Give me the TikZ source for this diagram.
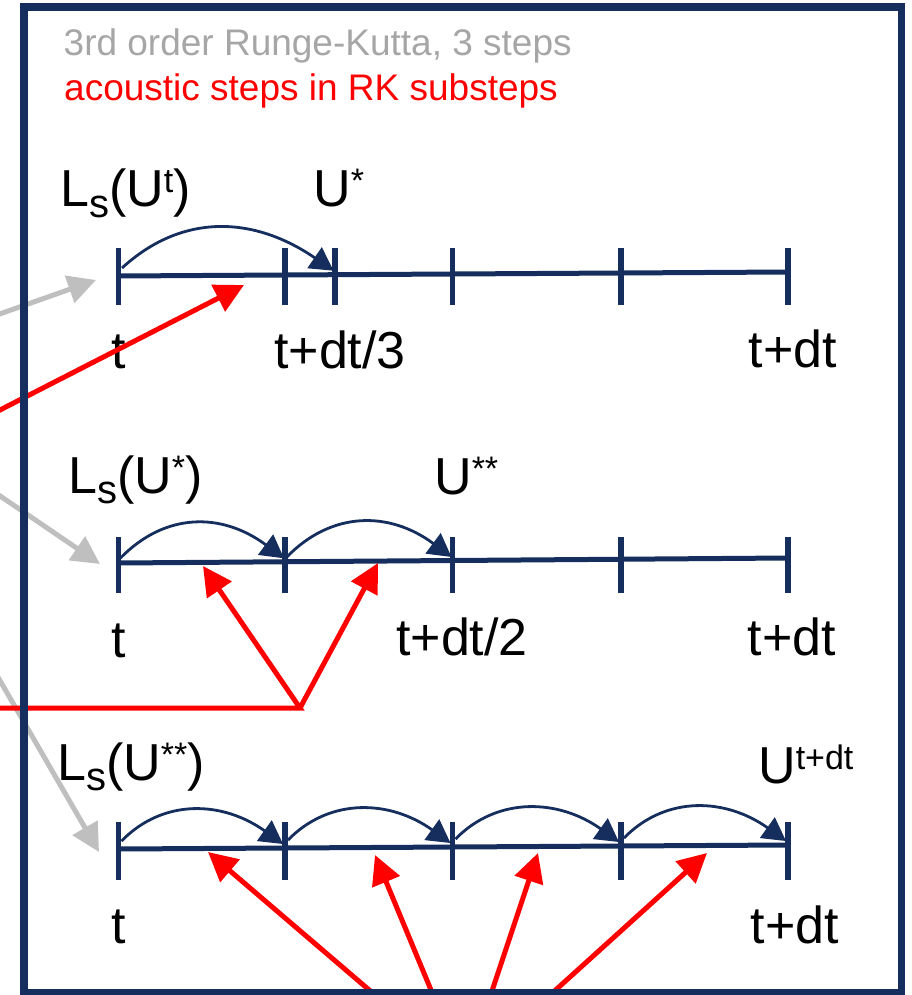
\documentclass[tikz,border=0pt]{standalone}
\usepackage{fontspec}
\setmainfont{Liberation Sans}
\usetikzlibrary{arrows.meta}
\definecolor{navy}{RGB}{21,46,94}
\definecolor{titlegray}{RGB}{166,166,166}
\definecolor{feedgray}{RGB}{191,191,191}
\definecolor{pptred}{RGB}{255,0,0}
% lowered / raised index text for the labels
\newcommand{\lsub}[1]{\raisebox{-10pt}{\fontsize{40}{40}\selectfont #1}}
\newcommand{\lsup}[1]{\raisebox{14pt}{\fontsize{34}{34}\selectfont #1}}

\begin{document}
\begin{tikzpicture}[x=1pt,y=-1pt,
  title/.style={anchor=base west, inner sep=0pt, font=\fontsize{37}{44}\selectfont},
  lbl/.style={anchor=base west, inner sep=0pt, font=\fontsize{52}{60}\selectfont},
  tlbl/.style={anchor=base, inner sep=0pt, font=\fontsize{52}{60}\selectfont},
  axisline/.style={navy, line width=5pt},
  tickmark/.style={navy, line width=5.5pt},
  hop/.style={navy, line width=2.8pt, -{Triangle[length=23pt,width=25pt]}},
  feed/.style={feedgray, line width=5pt, -{Triangle[length=28pt,width=28pt]}},
  redarrow/.style={pptred, line width=5pt, line join=miter, -{Triangle[length=29pt,width=29pt]}},
  frame/.style={navy, line width=7.5pt}
]
\useasboundingbox (0,0) rectangle (911,995);
\clip (0,0) rectangle (911,995);

% ---------- headings ----------
\node[title, text=titlegray] (head1) at (63.5,56) {3rd order Runge-Kutta, 3 steps};
\node[title, text=pptred] (head2) at (64,101) {acoustic steps in RK substeps};

% ---------- row 1: one step to t+dt/3 ----------
\coordinate (r1t0) at (118.5,276);
\coordinate (r1t1) at (285,275);
\coordinate (r1s)  at (335,274.7);
\coordinate (r1t2) at (452.5,274);
\coordinate (r1t3) at (621,273);
\coordinate (r1t4) at (788,272);
\draw[axisline] (r1t0) -- (r1t4);
\foreach \x in {118.5,285,335,452.5,621,788} \draw[tickmark] (\x,248) -- (\x,305);
\draw[hop] ([xshift=3.5pt,yshift=8pt]r1t0) .. controls +(60,-55) and +(-80,-55) .. ([xshift=-1.5pt,yshift=4pt]r1s);

\node[lbl] (ls1) at (60,207) {L\lsub{s}(U\lsup{t})};
\node[lbl] (u1) at (313,207) {U\lsup{*}};
\node[tlbl] (t1a) at (118.5,368) {t};
\node[tlbl] (t1b) at (340,368) {t+dt/3};
\node[tlbl] (t1c) at (793,367) {t+dt};

% ---------- row 2: two steps to t+dt/2 ----------
\coordinate (r2t0) at (118.5,563);
\coordinate (r2t1) at (285,561.8);
\coordinate (r2t2) at (452.5,560.5);
\coordinate (r2t3) at (621,559.2);
\coordinate (r2t4) at (788,558);
\draw[axisline] (r2t0) -- (r2t4);
\foreach \x in {118.5,285,452.5,621,788} \draw[tickmark] (\x,537) -- (\x,593);
\draw[hop] ([xshift=2pt,yshift=5pt]r2t0) .. controls +(45,-46) and +(-62,-46) .. ([xshift=-1pt,yshift=3.5pt]r2t1);
\draw[hop] ([xshift=2pt,yshift=5pt]r2t1) .. controls +(45,-46) and +(-62,-46) .. ([xshift=-1pt,yshift=3.5pt]r2t2);

\node[lbl] (ls2) at (68,493) {L\lsub{s}(U\lsup{*})};
\node[lbl] (u2) at (434,494) {U\lsup{**}};
\node[tlbl] (t2a) at (118.5,657) {t};
\node[tlbl] (t2b) at (462,655) {t+dt/2};
\node[tlbl] (t2c) at (792,655) {t+dt};

% ---------- row 3: four steps to t+dt ----------
\coordinate (r3t0) at (118.5,849);
\coordinate (r3t1) at (285,848);
\coordinate (r3t2) at (452.5,847);
\coordinate (r3t3) at (621,846);
\coordinate (r3t4) at (788,845);
\draw[axisline] (r3t0) -- (r3t4);
\foreach \x in {118.5,285,452.5,621,788} \draw[tickmark] (\x,822) -- (\x,880);
\draw[hop] ([xshift=3pt,yshift=8pt]r3t0) .. controls +(42,-43) and +(-60,-43) .. ([xshift=-2pt,yshift=4pt]r3t1);
\draw[hop] ([xshift=3pt,yshift=8pt]r3t1) .. controls +(42,-43) and +(-60,-43) .. ([xshift=-2pt,yshift=4pt]r3t2);
\draw[hop] ([xshift=3pt,yshift=8pt]r3t2) .. controls +(42,-43) and +(-60,-43) .. ([xshift=-2pt,yshift=4pt]r3t3);
\draw[hop] ([xshift=3pt,yshift=8pt]r3t3) .. controls +(42,-43) and +(-60,-43) .. ([xshift=-2pt,yshift=4pt]r3t4);

\node[lbl] (ls3) at (57,780) {L\lsub{s}(U\lsup{**})};
\node[lbl] (u3) at (758,783) {U\lsup{t+dt}};
\node[tlbl] (t3a) at (118.5,943) {t};
\node[tlbl] (t3c) at (795,943) {t+dt};

% ---------- gray feeds into each stage ----------
\coordinate (feedsrc) at (-176,376);
\coordinate (f1) at (96,280);
\coordinate (f2) at (100,564);
\coordinate (f3) at (99,852);
\draw[feed] (feedsrc) -- (f1);
\draw[feed] (feedsrc) -- (f2);
\draw[feed] (feedsrc) -- (f3);

% ---------- red pointers to the acoustic steps ----------
\coordinate (rs1) at (-50,435.6);
\coordinate (a1) at (244,285);
\draw[redarrow] (rs1) -- (a1);

\coordinate (rs2) at (-50,708);
\coordinate (j2) at (300,708);
\coordinate (a21) at (203,566);
\coordinate (a22) at (378,563);
\draw[redarrow] (rs2) -- (j2) -- (a21);
\draw[redarrow] (j2) -- (a22);

\coordinate (rs3) at (465,1072);
\coordinate (a31) at (208,852);
\coordinate (a32) at (375,855);
\coordinate (a33) at (538,853);
\coordinate (a34) at (707,853);
\foreach \p in {a31,a32,a33,a34} \draw[redarrow] (rs3) -- (\p);

% ---------- outer frame ----------
\draw[frame] (24,7) rectangle (901.5,993);
\end{tikzpicture}
\end{document}
